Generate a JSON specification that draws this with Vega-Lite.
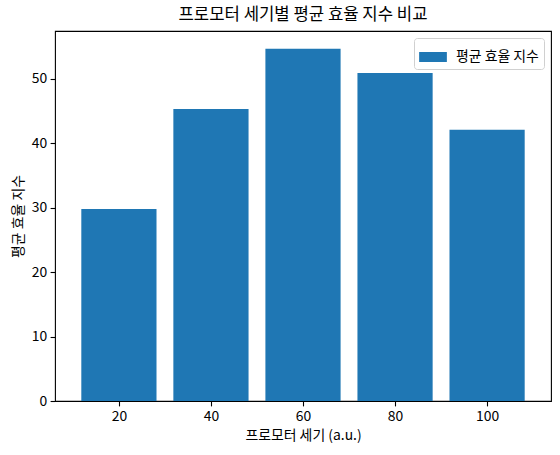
{
  "$schema": "https://vega.github.io/schema/vega-lite/v6.json",
  "width": 496,
  "height": 370,
  "autosize": {"type": "none"},
  "padding": {"left": 55, "top": 31, "right": 9, "bottom": 54},
  "background": "white",
  "config": {
    "font": "Noto Sans CJK KR",
    "view": {"stroke": "#000000", "strokeWidth": 1.1},
    "axis": {
      "domain": false,
      "grid": false,
      "ticks": true,
      "tickColor": "#000000",
      "tickSize": 4.9,
      "tickWidth": 1.1,
      "labelPadding": 3.5,
      "labelFontSize": 13.9,
      "labelColor": "#000000",
      "labelFont": "Noto Sans CJK KR",
      "titleFont": "Noto Sans CJK KR",
      "titleFontSize": 13.9,
      "titleFontWeight": "normal",
      "titleColor": "#000000"
    },
    "legend": {
      "labelFont": "Noto Sans CJK KR",
      "labelFontSize": 13.9,
      "labelColor": "#000000"
    },
    "title": {
      "font": "Noto Sans CJK KR",
      "fontSize": 16.7,
      "fontWeight": "normal",
      "color": "#000000",
      "offset": 7
    }
  },
  "title": {"text": "프로모터 세기별 평균 효율 지수 비교"},
  "data": {
    "values": [
      {"size": 20, "efficiency": 29.8},
      {"size": 40, "efficiency": 45.3},
      {"size": 60, "efficiency": 54.66},
      {"size": 80, "efficiency": 50.9},
      {"size": 100, "efficiency": 42.08}
    ]
  },
  "mark": {"type": "bar", "size": 75.2, "color": "#1f77b4"},
  "encoding": {
    "x": {
      "field": "size",
      "type": "quantitative",
      "scale": {"domain": [7.2, 112.8], "nice": false, "zero": false},
      "axis": {"values": [20, 40, 60, 80, 100], "title": "프로모터 세기 (a.u.)", "titlePadding": 5}
    },
    "y": {
      "field": "efficiency",
      "type": "quantitative",
      "scale": {"domain": [0, 57.4], "nice": false},
      "axis": {"values": [0, 10, 20, 30, 40, 50], "title": "평균 효율 지수", "titlePadding": 6}
    },
    "color": {
      "datum": "평균 효율 지수",
      "type": "nominal",
      "scale": {"range": ["#1f77b4"]},
      "legend": {
        "title": null,
        "orient": "top-right",
        "offset": 7,
        "padding": 5,
        "fillColor": "white",
        "strokeColor": "#d0d0d0",
        "cornerRadius": 3,
        "symbolType": "M-1,-0.36L1,-0.36L1,0.36L-1,0.36Z",
        "symbolSize": 770,
        "symbolStrokeWidth": 0,
        "symbolOpacity": 1,
        "labelOffset": 9
      }
    }
  }
}
